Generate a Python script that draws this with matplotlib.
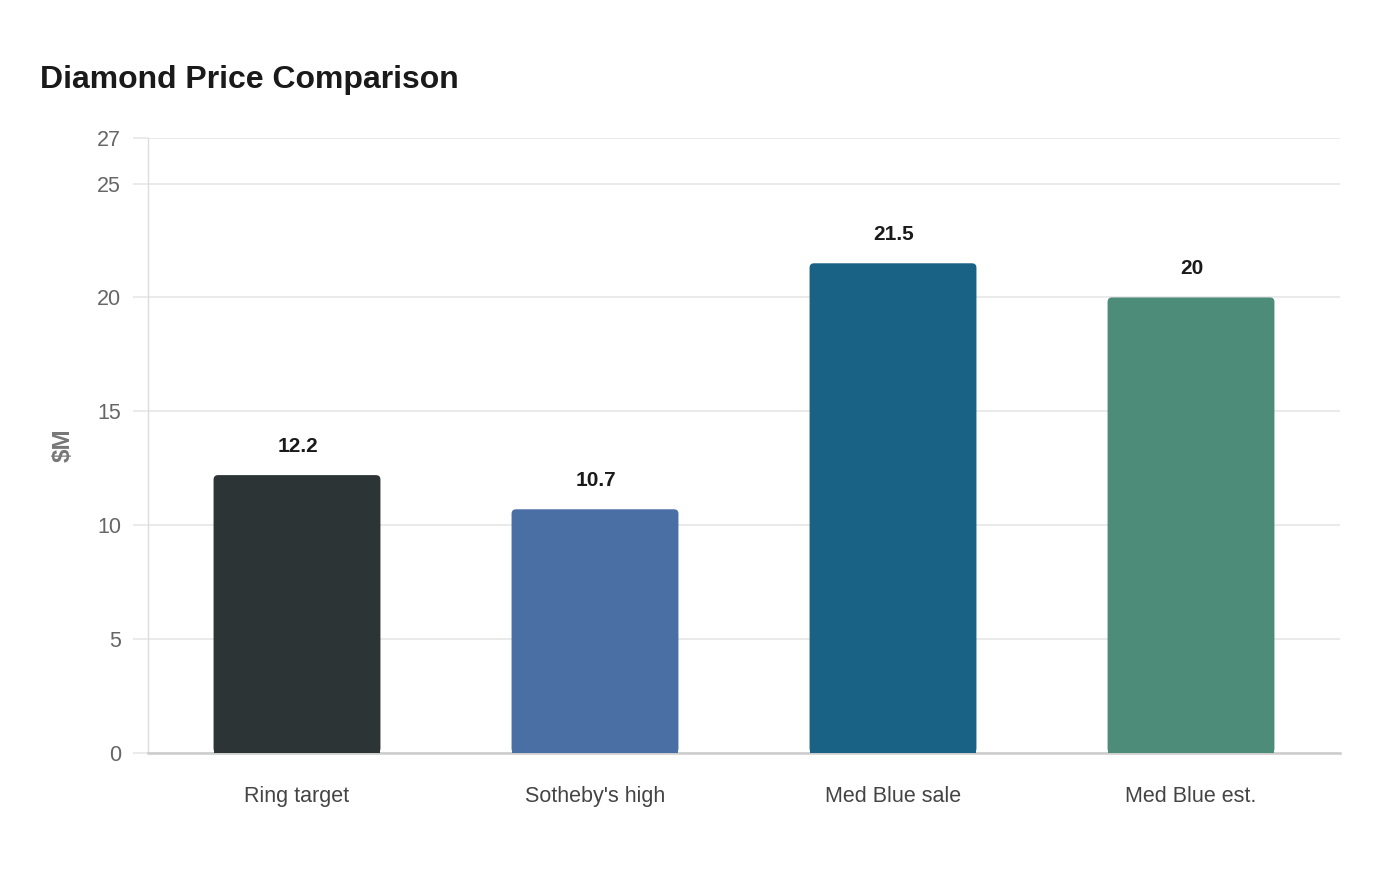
#!/usr/bin/env python3
"""Diamond price comparison bar chart."""

import matplotlib
matplotlib.use("Agg")
import matplotlib.pyplot as plt
from matplotlib.patches import FancyBboxPatch

plt.rcParams["font.family"] = ["Liberation Sans", "DejaVu Sans"]

categories = ["Ring target", "Sotheby's high", "Med Blue sale", "Med Blue est."]
prices = [12.2, 10.7, 21.5, 20]
value_labels = ["12.2", "10.7", "21.5", "20"]
bar_colors = ["#2d3436", "#4a6fa5", "#1a6186", "#4e8c7a"]
y_ticks = [0, 5, 10, 15, 20, 25, 27]

GRID = "#e6e6e6"

fig = plt.figure(figsize=(14, 8.8), dpi=100)
ax = fig.add_axes([148 / 1400, 1 - 753 / 880, 1192 / 1400, 615 / 880])

x = list(range(len(categories)))
bar_w = 0.56
ax.set_xlim(-0.5, len(categories) - 0.5)
ax.set_ylim(0, 27)

# px per data unit, used to get round corners of equal size in both directions
px_x = 1192 / len(categories)
px_y = 615 / 27
r_px = 4.5
rx = r_px / px_x
aspect = px_x / px_y
ry = rx * aspect

bars = ax.bar(x, prices, width=bar_w, color=bar_colors, zorder=3, linewidth=0)
for bar, color in zip(bars, bar_colors):
    bx, by = bar.get_x(), bar.get_y()
    bw, bh = bar.get_width(), bar.get_height()
    bar.set_height(bh - ry)
    ax.add_patch(FancyBboxPatch(
        (bx, by), bw, bh,
        boxstyle=f"round,pad=0,rounding_size={rx}",
        mutation_aspect=aspect,
        facecolor=color, edgecolor="none", zorder=3,
    ))

for xi, val, lab in zip(x, prices, value_labels):
    ax.annotate(lab, (xi, val), xytext=(0.7, 20.5), textcoords="offset points",
                ha="center", va="center", fontsize=15, fontweight="bold",
                color="#1a1a1a", zorder=4)

ax.set_yticks(y_ticks)
ax.set_yticklabels([str(t) for t in y_ticks])
ax.set_xticks(x)
ax.set_xticklabels(categories)

ax.grid(axis="y", color=GRID, linewidth=1.2, zorder=0)
ax.set_axisbelow(True)

ax.tick_params(axis="y", length=11, width=1.2, color=GRID, pad=8.5,
               labelsize=15.5, labelcolor="#666666")
ax.tick_params(axis="x", length=0, pad=23.5, labelsize=15.5, labelcolor="#444444")

for side in ("top", "right"):
    ax.spines[side].set_visible(False)
ax.spines["left"].set_color("#dcdcdc")
ax.spines["left"].set_linewidth(1)
ax.spines["bottom"].set_color("#cccccc")
ax.spines["bottom"].set_linewidth(1.8)

ax.set_ylabel("$M", fontsize=17.5, fontweight="bold", color="#777777")
ax.yaxis.set_label_coords(-0.0615, 0.5)

fig.text(40 / 1400, 1 - 80 / 880, "Diamond Price Comparison",
         fontsize=23, fontweight="bold", color="#1a1a1a", ha="left", va="center")

fig.savefig("out.png", dpi=100, facecolor="white")
